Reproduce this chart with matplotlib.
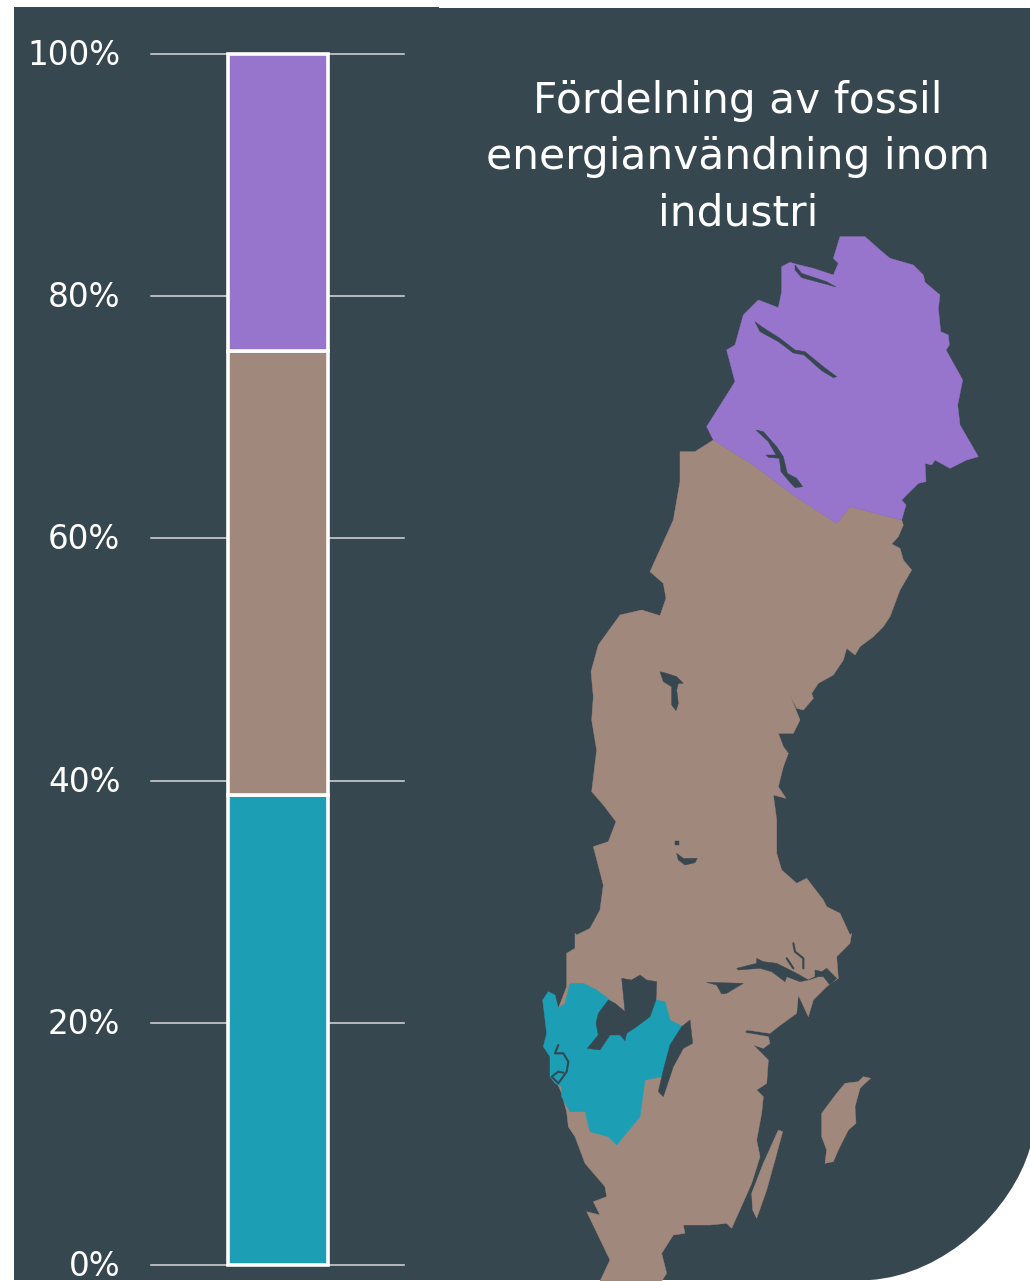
import matplotlib
matplotlib.use("Agg")
import matplotlib.pyplot as plt
from matplotlib.patches import Polygon, PathPatch
from matplotlib.path import Path
from matplotlib.transforms import ScaledTranslation

# ---- chart data ----
shares = [38.8, 36.7, 24.5]
share_colors = ["#1C9FB4", "#A1887C", "#9775CC"]
tick_values = [0, 20, 40, 60, 80, 100]
tick_labels = ["0%", "20%", "40%", "60%", "80%", "100%"]
title = "Fördelning av fossil\nenergianvändning inom\nindustri"

BG = "#374750"
TEAL, BROWN, PURPLE = share_colors
W, H = 1030, 1281

def z2(p): return [(680 + x / 3, 225 + y / 3) for x, y in p]
def z3(p): return [(530 + x / 3, 920 + y / 3) for x, y in p]
def z4(p): return [(570 + x / 3, 520 + y / 3) for x, y in p]

# ---- map outlines (decorative illustration, image pixels) ----
north_outline = z2([(480,35),(555,35),(600,75),(630,100),(700,120),(730,150),(735,172),(780,210),(775,250),
    (782,320),(805,330),(808,360),(798,375),(848,465),(833,540),(840,600),(895,695),(860,705),(810,730),
    (765,705),(755,720),(735,715),(738,770),(715,775),(700,790),(665,825),(678,840),(665,885),(510,845),(470,895),
    (340,810),(220,720),(100,645),(80,605),(165,470),(140,375),(165,360),(190,270),(235,225),(295,248),
    (305,200),(305,125),(330,112),(350,118),(400,130),(460,150),(475,115),(460,100)])
main_outline = (
    z2([(100,645),(220,720),(340,810),(470,895),(510,845),(665,885)])
    + z4([(1000,15),(985,50),(965,72),(990,85),(1000,120),(1025,150),(990,210),(960,290),(940,320),(930,330),(910,350),
        (870,380),(855,405),(830,385),(820,420),(790,465),(745,490),(725,520),(730,535),(700,570),(680,565),
        (660,525),(690,600),(670,640),(625,640),(640,680),(655,700),(640,740),(625,800),(648,835),(610,825),
        (620,900),(620,1000),(635,1050),(680,1090),(710,1075),(760,1140),(770,1160),(810,1180),(840,1245)])
    + z3([(965,40),(960,70),(920,110),(925,175),(890,200),(850,240),(835,290),(805,225),(800,280),(745,320),
        (720,340),(650,330),(645,338),(715,350),(720,370),(700,385),(670,375),(715,420),(710,490),(680,510),
        (700,530),(695,580),(680,660),(690,710),(665,790),(625,880),(605,925),(590,910),(540,915),(460,915),
        (465,940),(430,945),(395,1000),(410,1060),(395,1083),(210,1083),(240,1020),(170,875),(210,885),
        (190,845),(230,830),(225,800),(165,730),(135,650),(115,620),(110,575),(95,520),(60,440),(85,265),
        (110,200),(110,100),(135,85),(135,40)])
    + z4([(20,1245),(60,1225),(90,1170),(100,1095),(70,980),(115,965),(138,905),(100,855),(65,815),(80,690),
        (65,600),(70,530),(63,455),(85,375),(150,285),(215,270),(270,287),(288,235),(280,190),(240,155),(310,0)])
    + z2([(0,770),(0,680),(45,680)])
)
west_outline = z3([(120,190),(160,190),(200,210),(240,240),(290,280),(380,240),(405,245),(420,300),(460,320),
    (430,375),(395,470),(345,480),(330,590),(260,675),(235,650),(180,635),(165,575),(120,575),(95,530),
    (95,500),(75,490),(60,470),(60,410),(40,380),(50,340),(38,240),(55,215),(75,225),(85,265),(105,250)])
gotland = z3([(1000,470),(1022,475),(1005,490),(990,505),(975,560),(978,610),(955,630),(925,690),(910,725),
    (885,730),(890,690),(875,650),(875,580),(920,520),(945,490),(985,485)])
oland = z3([(745,630),(758,635),(735,720),(710,810),(680,895),(668,870),(665,820),(700,730)])
lakes = [
    z2([(345,120),(365,145),(440,170),(468,186),(440,178),(365,158),(345,135)]),
    z2([(225,290),(245,305),(300,340),(345,375),(375,380),(430,425),(470,455),(460,458),(425,437),(372,390),
        (340,384),(295,350),(240,320)]),
    z2([(228,615),(250,620),(290,665),(310,695),(322,745),(350,760),(368,785),(345,788),(328,770),(303,740),
        (298,700),(265,697),(258,690),(288,690),(265,650)]),
    z4([(270,455),(290,460),(320,470),(340,490),(325,490),(320,510),(325,550),(318,572),(305,555),(305,500),(280,485)]),
    z4([(320,1000),(340,1015),(382,1015),(375,1028),(345,1035),(325,1020)]),
    z4([(316,962),(328,962),(328,974),(316,974)]),
    z3([(275,175),(305,180),(330,165),(350,180),(380,185),(378,240),(360,290),(320,320),(290,340),(285,362),
        (270,345),(240,345),(210,390),(172,385),(205,345),(198,310),(205,280),(235,240),(255,250),(285,275)]),
    z3([(480,300),(488,370),(460,385),(430,440),(400,530),(385,515),(400,450),(420,375),(455,320)]),
    z3([(530,187),(640,190),(590,220),(575,222),(560,195)]),
    z3([(620,145),(680,130),(680,115),(700,125),(740,130),(800,160),(835,180),(810,185),(770,170),(765,185),
        (725,155),(690,145),(625,150)]),
    z3([(835,180),(855,170),(855,150),(875,155),(890,145),(920,175),(900,195),(880,170),(865,170)]),
]
river_lines = [
    z3([(790,70),(795,95),(820,115),(820,145)]),
    z3([(770,115),(790,145)]),
    z3([(85,375),(75,400),(100,400),(115,425),(110,455),(85,490),(65,470),(85,455),(100,458)]),
]

fig = plt.figure(figsize=(W / 100, H / 100), dpi=100, facecolor="white")

# backdrop + map in image-pixel space
bg = fig.add_axes([0, 0, 1, 1])
bg.set_xlim(0, W); bg.set_ylim(H, 0); bg.axis("off")
verts = [(14, 7), (439, 7), (439, 8), (W, 8), (W, 1148), (1012, 1210), (945, 1275), (870, 1280), (14, 1280), (14, 7)]
codes = [Path.MOVETO, Path.LINETO, Path.LINETO, Path.LINETO, Path.LINETO, Path.CURVE4, Path.CURVE4, Path.CURVE4,
         Path.LINETO, Path.CLOSEPOLY]
bg.add_patch(PathPatch(Path(verts, codes), fc=BG, ec="none"))
for pts, col in [(main_outline, BROWN), (north_outline, PURPLE), (west_outline, TEAL), (gotland, BROWN), (oland, BROWN)]:
    bg.add_patch(Polygon(pts, closed=True, fc=col, ec=col, lw=0.3))
for pts in lakes:
    bg.add_patch(Polygon(pts, closed=True, fc=BG, ec=BG, lw=0.3))
for pts in river_lines:
    bg.plot(*zip(*pts), color=BG, lw=1.5, solid_capstyle="round")
bg.text(738, 157, title, color="white", fontsize=30.5, ha="center", va="center",
        family="DejaVu Sans", linespacing=1.43)

# stacked bar on a real 0-100 scale
ax = fig.add_axes([151 / W, 1 - 1265 / H, 253 / W, (1265 - 54) / H])
ax.patch.set_alpha(0)
ax.set_xlim(0, 253); ax.set_ylim(0, 100)
for s in ax.spines.values():
    s.set_visible(False)
bottom = 0
for v, c in zip(shares, share_colors):
    ax.bar(126.5, v, width=100, bottom=bottom, color=c, edgecolor="white", linewidth=2.6, zorder=3, clip_on=False)
    bottom += v
ax.set_xticks([])
ax.set_yticks(tick_values)
ax.set_yticklabels(tick_labels, color="white", fontsize=23.5, family="DejaVu Sans", va="center_baseline")
ax.tick_params(axis="y", length=0, pad=22)
shift = ScaledTranslation(0, 2 / 100, fig.dpi_scale_trans)
for lab in ax.get_yticklabels():
    lab.set_transform(lab.get_transform() + shift)
ax.yaxis.grid(True, color="#D9D9D9", linewidth=1.1, clip_on=False)
for g in ax.yaxis.get_gridlines():
    g.set_clip_on(False)
ax.set_axisbelow(True)

fig.savefig("out.png", dpi=100, facecolor="white")
